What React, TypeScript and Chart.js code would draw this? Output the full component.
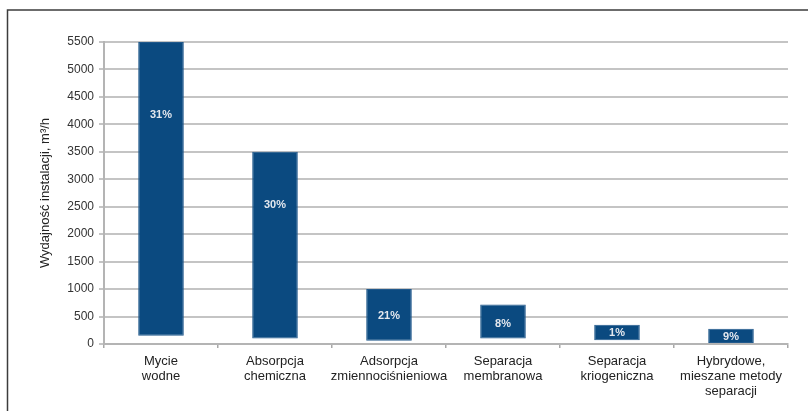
import React, { useEffect, useRef } from "react";
import { Chart, registerables } from "chart.js";

Chart.register(...registerables);

const categories: string[][] = [
  ["Mycie", "wodne"],
  ["Absorpcja", "chemiczna"],
  ["Adsorpcja", "zmiennociśnieniowa"],
  ["Separacja", "membranowa"],
  ["Separacja", "kriogeniczna"],
  ["Hybrydowe,", "mieszane metody", "separacji"],
];
const minCapacity: number[] = [150, 100, 60, 100, 70, 0];
const maxCapacity: number[] = [5500, 3500, 1000, 720, 350, 280];
const shareLabels: string[] = ["31%", "30%", "21%", "8%", "1%", "9%"];
const shareLabelAt: number[] = [4170, 2530, 510, 370, 200, 135];
const yTicks: number[] = [0, 500, 1000, 1500, 2000, 2500, 3000, 3500, 4000, 4500, 5000, 5500];
const yTitle = "Wydajność instalacji, m³/h";

const FONT = "'Liberation Sans', Arial, sans-serif";

export default function App() {
  const ref = useRef<HTMLCanvasElement | null>(null);

  useEffect(() => {
    const canvas = ref.current;
    if (!canvas) return;

    const framePlugin = {
      id: "frame",
      beforeDraw(chart: any) {
        const ctx = chart.ctx;
        ctx.save();
        ctx.fillStyle = "#ffffff";
        ctx.fillRect(0, 0, chart.width, chart.height);
        ctx.strokeStyle = "#3c3c3c";
        ctx.lineWidth = 1.5;
        ctx.beginPath();
        ctx.moveTo(7.5, chart.height);
        ctx.lineTo(7.5, 10);
        ctx.lineTo(chart.width, 10);
        ctx.stroke();
        ctx.restore();
      },
      afterDraw(chart: any) {
        const ctx = chart.ctx;
        const area = chart.chartArea;
        ctx.save();
        ctx.translate(45, (area.top + area.bottom) / 2);
        ctx.rotate(-Math.PI / 2);
        ctx.fillStyle = "#222222";
        ctx.font = `13px ${FONT}`;
        ctx.textAlign = "center";
        ctx.textBaseline = "middle";
        ctx.fillText(yTitle, 0, 0);
        ctx.restore();
      },
    };

    const labelPlugin = {
      id: "shareLabels",
      afterDatasetsDraw(chart: any) {
        const ctx = chart.ctx;
        const meta = chart.getDatasetMeta(0);
        const yScale = chart.scales.y;
        ctx.save();
        ctx.fillStyle = "#e4e8ee";
        ctx.font = `bold 11px ${FONT}`;
        ctx.textAlign = "center";
        ctx.textBaseline = "middle";
        meta.data.forEach((bar: any, i: number) => {
          ctx.fillText(shareLabels[i], bar.x, yScale.getPixelForValue(shareLabelAt[i]));
        });
        ctx.restore();
      },
    };

    const chart = new Chart(canvas, {
      type: "bar",
      data: {
        labels: categories,
        datasets: [
          {
            data: minCapacity.map((lo, i) => [lo, maxCapacity[i]]) as any,
            backgroundColor: "#0b4a80",
            borderColor: "#21598c",
            borderWidth: 1,
            borderSkipped: false,
            barPercentage: 0.4,
            categoryPercentage: 1,
          },
        ],
      },
      options: {
        responsive: false,
        animation: false,
        devicePixelRatio: 1,
        layout: { padding: { top: 42, right: 20, bottom: 0, left: 0 } },
        plugins: {
          legend: { display: false },
          tooltip: { enabled: false },
          title: { display: false },
        },
        scales: {
          x: {
            offset: true,
            grid: {
              display: true,
              offset: true,
              drawOnChartArea: false,
              drawTicks: true,
              tickLength: 4,
              color: "#a8a8a8",
              lineWidth: 1.5,
            },
            border: { display: true, color: "#b4b4b4", width: 2 },
            ticks: {
              color: "#222222",
              font: { family: FONT, size: 13, lineHeight: 1.15 },
              padding: 6,
              maxRotation: 0,
              autoSkip: false,
            },
            afterFit(scale: any) {
              scale.height = 67;
            },
          },
          y: {
            min: 0,
            max: 5500,
            afterBuildTicks(scale: any) {
              scale.ticks = yTicks.map((v) => ({ value: v }));
            },
            grid: {
              color: "#c4c4c4",
              lineWidth: 2,
              drawTicks: true,
              tickLength: 5,
            },
            border: { display: true, color: "#b4b4b4", width: 2 },
            ticks: {
              color: "#333333",
              font: { family: FONT, size: 12 },
              padding: 5,
              callback: (value: any) => String(value),
            },
            afterFit(scale: any) {
              scale.width = 104;
            },
          },
        },
      },
      plugins: [framePlugin, labelPlugin],
    });

    return () => chart.destroy();
  }, []);

  return (
    <div style={{ position: "fixed", left: 0, top: 0, width: 808, height: 411 }}>
      <canvas ref={ref} width={808} height={411} style={{ width: 808, height: 411, display: "block" }} />
    </div>
  );
}
